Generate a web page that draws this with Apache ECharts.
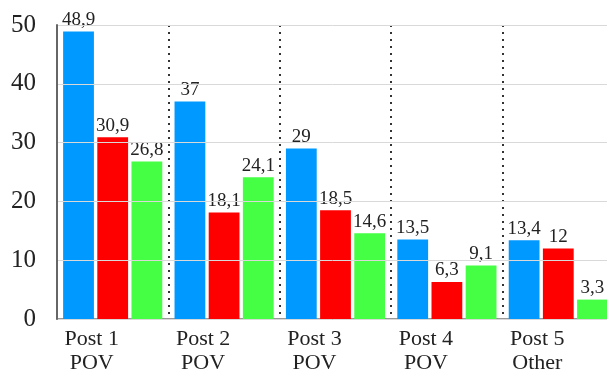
<!DOCTYPE html>
<html>
<head>
<meta charset="utf-8">
<script src="https://cdn.jsdelivr.net/npm/echarts@6/dist/echarts.min.js"></script>
<style>
  html, body { margin: 0; padding: 0; background: #fff; }
  #chart { width: 607px; height: 374px; }
</style>
</head>
<body>
<div id="chart"></div>
<script>
// Categories and values per post
const categories = ['Post 1\nPOV', 'Post 2\nPOV', 'Post 3\nPOV', 'Post 4\nPOV', 'Post 5\nOther'];
const blueValues = [48.9, 37, 29, 13.5, 13.4];
const redValues = [30.9, 18.1, 18.5, 6.3, 12];
const greenValues = [26.8, 24.1, 14.6, 9.1, 3.3];
const yTicks = [0, 10, 20, 30, 40, 50];

const FONT = '"Liberation Serif", "Times New Roman", serif';
const fmt = v => String(v).replace('.', ',');

function barSeries(name, data, color) {
  return {
    name: name,
    type: 'bar',
    data: data,
    barGap: '11%',
    barCategoryGap: '11%',
    itemStyle: { color: color },
    label: {
      show: true,
      position: 'top',
      distance: 2,
      fontFamily: FONT,
      fontSize: 19,
      color: '#222',
      formatter: p => fmt(p.value)
    }
  };
}

const chart = echarts.init(document.getElementById('chart'), null, { renderer: 'canvas' });
chart.setOption({
  animation: false,
  grid: {
    left: 57, width: 557, top: 25, bottom: 55,
    containLabel: false,
    outerBoundsMode: 'none'
  },
  xAxis: {
    type: 'category',
    data: categories,
    z: 1,
    axisLine: { lineStyle: { color: '#777', width: 1.5 } },
    axisTick: { show: false },
    splitLine: {
      show: true,
      // dotted separators between posts, none on the left edge
      interval: (index) => index !== 0,
      lineStyle: { color: '#333', width: 2, type: [2, 5] }
    },
    axisLabel: {
      interval: 0,
      fontFamily: FONT,
      fontSize: 22,
      lineHeight: 24,
      color: '#222',
      margin: 8,
      padding: [0, 42, 0, 0]
    }
  },
  yAxis: {
    type: 'value',
    min: yTicks[0],
    max: yTicks[yTicks.length - 1],
    interval: 10,
    z: 5,
    axisLine: { show: true, lineStyle: { color: '#666', width: 2 } },
    axisTick: { show: false },
    splitLine: { lineStyle: { color: '#d9d9d9', width: 1 } },
    axisLabel: {
      fontFamily: FONT,
      fontSize: 25,
      color: '#222',
      margin: 21
    }
  },
  series: [
    barSeries('A', blueValues, '#0099ff'),
    barSeries('B', redValues, '#ff0000'),
    barSeries('C', greenValues, '#44ff44')
  ]
});
</script>
</body>
</html>
